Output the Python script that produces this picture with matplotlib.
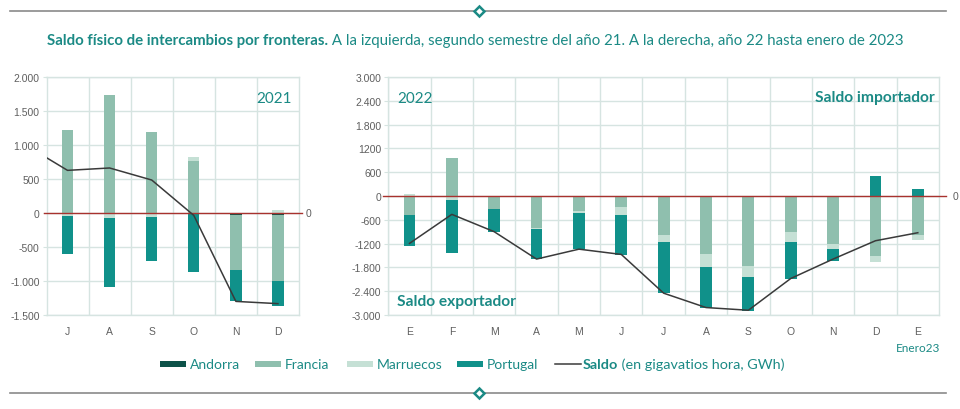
import matplotlib
matplotlib.use('Agg')
import matplotlib.pyplot as plt
from matplotlib.lines import Line2D
from matplotlib.patches import Rectangle
import numpy as np

# ---------------- data ----------------
months_2021 = ['J', 'A', 'S', 'O', 'N', 'D']
andorra_2021 = [0, 0, 0, 0, -25, -35]
francia_2021 = [1225, 1740, 1186, 760, -820, -970]
marruecos_2021 = [-45, -70, -60, 60, 0, 50]
portugal_2021 = [-560, -1020, -650, -873, -455, -360]
saldo_2021 = [627, 662, 485, -35, -1300, -1333]
saldo_jun_2021 = 1000  # previous month (June), line enters from the left edge

months_2022 = ['E', 'F', 'M', 'A', 'M', 'J', 'J', 'A', 'S', 'O', 'N', 'D', 'E']
andorra_2022 = [0, 0, -30, 0, 0, 0, 0, 0, 0, 0, 0, 0, 0]
francia_2022 = [-480, 970, -290, -808, -370, -280, -985, -1465, -1777, -910, -1220, -1515, -985]
marruecos_2022 = [50, -90, -10, -25, -60, -210, -170, -320, -253, -244, -118, -143, -126]
portugal_2022 = [-775, -1355, -580, -760, -910, -985, -1295, -1027, -867, -926, -295, 513, 177]
saldo_2022 = [-1195, -463, -900, -1590, -1340, -1473, -2450, -2812, -2880, -2080, -1590, -1128, -926]

yticks_2021 = [2000, 1500, 1000, 500, 0, -500, -1000, -1500]
ylabels_2021 = ['2.000', '1.500', '1.000', '500', '0', '-500', '-1.000', '-1.500']
yticks_2022 = [3000, 2400, 1800, 1200, 600, 0, -600, -1200, -1800, -2400, -3000]
ylabels_2022 = ['3.000', '2.400', '1.800', '1200', '600', '0', '-600', '-1200', '-1.800', '-2.400', '-3.000']

series_names = ['Andorra', 'Francia', 'Marruecos', 'Portugal']

# ---------------- style ----------------
C_AND = '#0d5249'
C_FRA = '#8fbfae'
C_MAR = '#c5e0d5'
C_POR = '#10918a'
C_LINE = '#3a3a3a'
C_GRID = '#d6e4e1'
C_ZERO = '#a8322e'
C_TEAL = '#1b8a85'
C_TICK = '#5f5f5f'
colors = [C_AND, C_FRA, C_MAR, C_POR]

TEXT_FONT = ['Lato', 'DejaVu Sans']
TICK_FONT = ['Liberation Sans Narrow', 'Liberation Sans', 'DejaVu Sans']

W, H = 960, 410
fig = plt.figure(figsize=(W / 100, H / 100), dpi=100)


def px_axes(x0, y0, x1, y1):
    return fig.add_axes([x0 / W, 1 - y1 / H, (x1 - x0) / W, (y1 - y0) / H])


def stack(ax, x, series, width):
    pos = np.zeros(len(x))
    neg = np.zeros(len(x))
    for vals, c in zip(series, colors):
        v = np.array(vals, float)
        bottom = np.where(v >= 0, pos, neg)
        ax.bar(x, v, width, bottom=bottom, color=c, linewidth=0, zorder=3)
        pos += np.where(v >= 0, v, 0)
        neg += np.where(v < 0, v, 0)


def style_axes(ax, n, yticks, ylabels):
    ax.set_xlim(-0.5, n - 0.5)
    ax.set_ylim(min(yticks), max(yticks))
    ax.set_yticks(yticks)
    ax.set_yticklabels(ylabels, family=TICK_FONT, fontsize=7.5, color=C_TICK)
    ax.set_xticks(np.arange(n) - 0.5, minor=True)
    ax.grid(True, axis='y', color=C_GRID, linewidth=1, zorder=0)
    ax.grid(True, axis='x', which='minor', color=C_GRID, linewidth=1, zorder=0)
    ax.tick_params(axis='y', length=3, width=0.8, color=C_GRID, pad=2)
    ax.tick_params(axis='x', which='both', length=0, pad=8)
    for s in ax.spines.values():
        s.set_color(C_GRID)
        s.set_linewidth(1)
    # zero line
    ax.plot([-0.01, 1.012], [0, 0], color=C_ZERO, lw=1.0, zorder=4,
            transform=ax.get_yaxis_transform(), clip_on=False)
    ax.text(1.025, 0, '0', transform=ax.get_yaxis_transform(), ha='left', va='center',
            family=TICK_FONT, fontsize=7.5, color=C_TICK)


# ---------------- left chart (2021) ----------------
ax1 = px_axes(46.5, 78, 299, 316)
x1 = np.arange(len(months_2021))
stack(ax1, x1, [andorra_2021, francia_2021, marruecos_2021, portugal_2021], 0.27)
ax1.plot(np.concatenate([[-1], x1]), [saldo_jun_2021] + saldo_2021, color=C_LINE, lw=1.1, zorder=5)
style_axes(ax1, len(months_2021), yticks_2021, ylabels_2021)
ax1.set_xticks(x1)
ax1.set_xticklabels(months_2021, family=TICK_FONT, fontsize=7.5, color=C_TICK)
ax1.text(0.97, 0.94, '2021', transform=ax1.transAxes, ha='right', va='top',
         family=TEXT_FONT, fontsize=11, color=C_TEAL)

# ---------------- right chart (2022) ----------------
ax2 = px_axes(388.3, 78, 939, 316)
x2 = np.arange(len(months_2022))
stack(ax2, x2, [andorra_2022, francia_2022, marruecos_2022, portugal_2022], 0.28)
ax2.plot(x2, saldo_2022, color=C_LINE, lw=1.1, zorder=5)
style_axes(ax2, len(months_2022), yticks_2022, ylabels_2022)
ax2.set_xticks(x2)
ax2.set_xticklabels(months_2022, family=TICK_FONT, fontsize=7.5, color=C_TICK)
ax2.text(0.017, 0.94, '2022', transform=ax2.transAxes, ha='left', va='top',
         family=TEXT_FONT, fontsize=11, color=C_TEAL)
ax2.text(0.993, 0.945, 'Saldo importador', transform=ax2.transAxes, ha='right', va='top',
         family=TEXT_FONT, fontsize=11.2, fontweight='bold', color=C_TEAL)
ax2.text(0.016, 0.03, 'Saldo exportador', transform=ax2.transAxes, ha='left', va='bottom',
         family=TEXT_FONT, fontsize=11.2, fontweight='bold', color=C_TEAL)
fig.text(940 / W, 1 - 349 / H, 'Enero23', ha='right', va='center',
         family=TEXT_FONT, fontsize=8.5, color=C_TEAL)

# ---------------- title ----------------
t1 = fig.text(47 / W, 1 - 48 / H, 'Saldo físico de intercambios por fronteras.', ha='left', va='bottom',
              family=TEXT_FONT, fontsize=10.85, fontweight='bold', color=C_TEAL)
fig.add_artist(plt.Annotation(' A la izquierda, segundo semestre del año 21. A la derecha, año 22 hasta enero de 2023',
                              xy=(1, 0), xycoords=t1, ha='left', va='bottom',
                              family=TEXT_FONT, fontsize=10.85, color=C_TEAL))

# ---------------- decorative rules ----------------
for yy in (12, 394):
    fig.add_artist(Line2D([10 / W, 946 / W], [1 - yy / H, 1 - yy / H], color='#8a8a8a', lw=1.2))
    fig.add_artist(Line2D([479 / W], [1 - yy / H], marker='D', markersize=5.5,
                          markerfacecolor='white', markeredgecolor=C_TEAL, markeredgewidth=1.8))

# ---------------- legend ----------------
ly = 1 - 365 / H
patch_x = [160, 255, 347, 457]
for px, c, name in zip(patch_x, colors, series_names):
    fig.add_artist(Rectangle((px / W, ly - 3 / H), 26 / W, 6 / H, facecolor=c, edgecolor='none',
                             transform=fig.transFigure))
    fig.text((px + 30) / W, ly, name, ha='left', va='center', family=TEXT_FONT, fontsize=10, color=C_TEAL)
fig.add_artist(Line2D([555 / W, 581 / W], [ly, ly], color=C_LINE, lw=1.1))
s1 = fig.text(583 / W, ly, 'Saldo', ha='left', va='center', family=TEXT_FONT, fontsize=10.4,
              fontweight='bold', color=C_TEAL)
fig.add_artist(plt.Annotation(' (en gigavatios hora, GWh)', xy=(1, 0.5), xycoords=s1, ha='left', va='center',
                              family=TEXT_FONT, fontsize=10.4, color=C_TEAL))

fig.savefig('out.png', dpi=100, facecolor='white')
